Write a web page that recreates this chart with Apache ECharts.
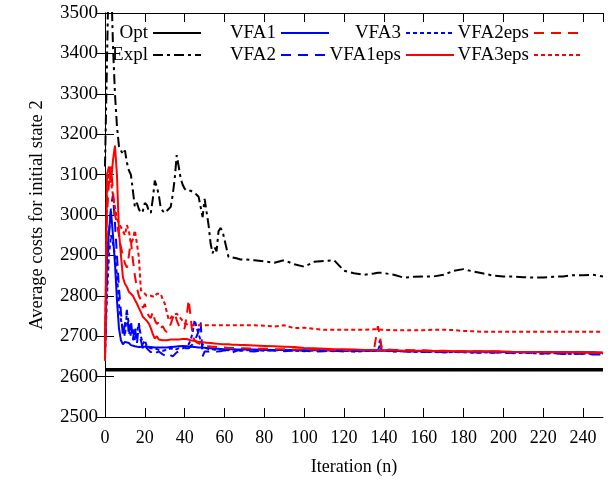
<!DOCTYPE html>
<html>
<head>
<meta charset="utf-8">
<script src="https://cdn.jsdelivr.net/npm/echarts@6/dist/echarts.min.js"></script>
<style>
  html, body { margin: 0; padding: 0; background: #fff; }
  #costChart { width: 612px; height: 482px; }
</style>
</head>
<body>
<div id="costChart"></div>
<script>
  // iteration grid (dense at the start where the curves are noisy)
  var iters = [0, 1, 2, 3, 4, 5, 6, 7, 8, 9, 10, 11, 12, 13, 14, 15, 16, 17, 18, 19,
    20, 21, 22, 23, 24, 25, 26, 27, 28, 29, 30, 31, 32, 33, 34, 35, 36, 37, 38, 39,
    40, 41, 42, 43, 44, 45, 46, 47, 48, 49, 50, 51, 52, 53, 54, 55, 56, 57, 58, 59, 60,
    62, 64, 66, 68,
    70, 75, 80, 85, 90, 95, 100, 105, 110, 115, 120, 125, 130, 135,
    136, 137, 138, 139,
    140, 145, 150, 155, 160, 165, 170, 175, 180, 185, 190, 195, 200, 205, 210, 215, 220, 225, 230, 235, 240, 245, 250]

  var optValue = 2617

  var explCost = [3120, 3380, 3650, 3600, 3420, 3300, 3220, 3170, 3160, 3150,
    3160, 3130, 3110, 3100, 3060, 3020, 3030, 3015, 3005, 3010,
    3030, 3025, 3010, 3005, 3040, 3085, 3070, 3050, 3016, 3010,
    3005, 3008, 3015, 3020, 3050, 3090, 3148, 3120, 3090, 3075,
    3065, 3060, 3058, 3060, 3056, 3055, 3050, 3045, 3044, 2995,
    3040, 3044, 2975, 2930, 2905, 2920, 2910, 2960, 2968, 2960, 2962,
    2896, 2895, 2893, 2890,
    2890, 2888, 2885, 2882, 2888, 2878, 2872, 2884, 2886, 2888, 2862, 2856, 2852, 2855,
    2856, 2857, 2857, 2857,
    2856, 2852, 2845, 2847, 2848, 2848, 2852, 2862, 2866, 2860, 2855, 2850, 2848, 2848, 2846, 2845, 2845, 2847, 2848, 2851, 2851, 2852, 2848]

  var vfa1Cost = [2660, 2900, 2960, 3010, 2950, 2880, 2790, 2720, 2690, 2680,
    2686, 2690, 2683, 2678, 2676, 2675, 2674, 2673, 2675, 2674,
    2673, 2674, 2672, 2673, 2674, 2672, 2671, 2672, 2673, 2672,
    2671, 2672, 2672, 2673, 2674, 2674, 2675, 2675, 2676, 2676,
    2676, 2675, 2675, 2674, 2674, 2673, 2673, 2672, 2672, 2672,
    2671, 2671, 2670, 2670, 2670, 2669, 2669, 2669, 2669, 2668, 2668,
    2668, 2668, 2667, 2667,
    2667, 2667, 2666, 2666, 2666, 2665, 2665, 2665, 2665, 2664, 2664, 2664, 2664, 2664,
    2664, 2664, 2664, 2664,
    2664, 2664, 2663, 2663, 2663, 2663, 2663, 2662, 2662, 2662, 2662, 2662, 2661, 2661, 2661, 2661, 2661, 2660, 2660, 2660, 2660, 2660, 2659]

  var vfa2Cost = [2655, 2850, 2950, 3020, 3050, 2980, 2900, 2820, 2760, 2700,
    2730, 2765, 2700, 2740, 2690, 2725, 2680, 2730, 2690, 2670,
    2682, 2670, 2665, 2660, 2666, 2658, 2660, 2662, 2660, 2655,
    2652, 2650, 2655, 2652, 2650, 2655, 2660, 2662, 2665, 2668,
    2670, 2672, 2670, 2675, 2680, 2690, 2700, 2712, 2735, 2650,
    2662, 2665, 2662, 2660, 2664, 2666, 2662, 2660, 2663, 2666, 2665,
    2662, 2660, 2664, 2666,
    2664, 2662, 2666, 2664, 2663, 2665, 2664, 2662, 2663, 2664, 2662, 2663, 2664, 2665,
    2665, 2666, 2690, 2668,
    2664, 2663, 2662, 2663, 2661, 2662, 2660, 2661, 2662, 2660, 2659, 2660, 2658, 2659, 2660, 2658, 2657, 2658, 2656, 2657, 2656, 2655, 2655]

  var vfa3Cost = [2655, 2800, 2900, 2950, 2930, 2900, 2850, 2780, 2740, 2720,
    2700, 2760, 2730, 2700, 2720, 2690, 2710, 2732, 2700, 2680,
    2690, 2675, 2672, 2670, 2668, 2670, 2668, 2666, 2665, 2664,
    2665, 2666, 2668, 2670, 2668, 2666, 2668, 2670, 2672, 2670,
    2672, 2675, 2680, 2690, 2710, 2740, 2722, 2705, 2690, 2680,
    2672, 2670, 2668, 2666, 2668, 2667, 2665, 2666, 2668, 2667, 2666,
    2665, 2667, 2666, 2664,
    2665, 2666, 2664, 2665, 2666, 2664, 2663, 2665, 2664, 2663, 2664, 2662, 2663, 2664,
    2664, 2665, 2678, 2665,
    2663, 2662, 2663, 2661, 2662, 2661, 2660, 2661, 2660, 2659, 2660, 2659, 2660, 2658, 2659, 2658, 2657, 2658, 2657, 2656, 2657, 2656, 2656]

  var vfa1epsCost = [2640, 3100, 3120, 3080, 3135, 3172, 3100, 2960, 2900, 2846,
    2830, 2822, 2810, 2805, 2800, 2790, 2781, 2770, 2760, 2748,
    2752, 2738, 2731, 2720, 2705, 2694, 2700, 2692, 2691, 2690,
    2690, 2690, 2691, 2692, 2692, 2692, 2691, 2692, 2693, 2693,
    2694, 2693, 2692, 2690, 2689, 2688, 2687, 2686, 2686, 2685,
    2685, 2684, 2684, 2683, 2683, 2682, 2682, 2681, 2681, 2680, 2680,
    2680, 2679, 2679, 2678,
    2678, 2677, 2676, 2675, 2674, 2673, 2671, 2670, 2669, 2668, 2668, 2667, 2666, 2666,
    2666, 2665, 2665, 2665,
    2665, 2665, 2664, 2664, 2664, 2663, 2663, 2663, 2662, 2662, 2662, 2662, 2662, 2661, 2661, 2661, 2660, 2660, 2660, 2660, 2659, 2659, 2659]

  var vfa2epsCost = [2640, 3000, 3080, 3120, 3060, 3000, 2980, 2950, 2920, 2900,
    2880, 2870, 2900, 2937, 2888, 2850, 2820, 2800, 2790, 2770,
    2780, 2760, 2750, 2745, 2760, 2740, 2730, 2735, 2720, 2725,
    2715, 2710, 2720, 2730, 2745, 2757, 2740, 2727, 2720, 2715,
    2720, 2750, 2790, 2748, 2700, 2690, 2685, 2682, 2680, 2678,
    2676, 2676, 2675, 2675, 2674, 2674, 2673, 2673, 2672, 2672, 2672,
    2671, 2671, 2670, 2670,
    2670, 2669, 2669, 2668, 2668, 2667, 2667, 2667, 2666, 2666, 2666, 2666, 2666, 2666,
    2666, 2725, 2700, 2668,
    2667, 2666, 2666, 2665, 2665, 2664, 2664, 2663, 2663, 2663, 2662, 2662, 2662, 2661, 2661, 2661, 2661, 2660, 2660, 2660, 2660, 2659, 2659]

  var vfa3epsCost = [2640, 3050, 3100, 3080, 3050, 3020, 2990, 2980, 2970, 2960,
    2950, 2975, 2960, 2929, 2940, 2962, 2930, 2896, 2814, 2810,
    2805, 2800, 2798, 2800, 2797, 2797, 2805, 2806, 2805, 2790,
    2781, 2760, 2740, 2745, 2752, 2755, 2756, 2750, 2744, 2738,
    2732, 2730, 2728, 2727, 2727, 2727, 2727, 2727, 2727, 2727,
    2727, 2727, 2727, 2727, 2727, 2727, 2727, 2727, 2727, 2727, 2727,
    2727, 2727, 2727, 2727,
    2727, 2727, 2726, 2724, 2727, 2720, 2721, 2718, 2716, 2716, 2716, 2716, 2716, 2717,
    2717, 2717, 2717, 2716,
    2716, 2715, 2715, 2715, 2715, 2716, 2716, 2715, 2713, 2712, 2711, 2711, 2711, 2711, 2711, 2711, 2711, 2711, 2711, 2711, 2711, 2711, 2711]

  var FONT = 'Liberation Serif'
  var BLUE = '#0000ff'
  var RED = '#ff0000'

  function pairs(values) {
    return iters.map(function (n, i) { return [n, values[i]] })
  }

  function lineSeries(name, values, color, width, dash) {
    return {
      name: name,
      type: 'line',
      data: pairs(values),
      symbol: 'none',
      animation: false,
      lineStyle: { color: color, width: width, type: dash },
      itemStyle: { color: color }
    }
  }

  // one legend box per entry so the text is right-aligned before the sample line
  function legendAt(name, right, top) {
    return {
      data: [name],
      right: right,
      top: top,
      padding: 0,
      align: 'right',
      itemWidth: 48,
      itemHeight: 10,
      itemStyle: { opacity: 0 },
      textStyle: { fontFamily: FONT, fontSize: 19, color: '#000', lineHeight: 20 }
    }
  }

  var tickInside = { show: true, inside: true, length: 9, lineStyle: { color: '#000' } }
  var axisLineBlack = { show: true, lineStyle: { color: '#000', width: 1 } }

  var chartDom = document.getElementById('costChart')
  var myChart = echarts.init(chartDom, null, { renderer: 'canvas' })
  myChart.setOption({
    animation: false,
    backgroundColor: '#fff',
    grid: { left: 105, right: 9, top: 13, bottom: 65 },
    legend: [
      legendAt('Opt', 410, 23),
      legendAt('Expl', 410, 45),
      legendAt('VFA1', 282, 23),
      legendAt('VFA2', 282, 45),
      legendAt('VFA3', 157, 23),
      legendAt('VFA1eps', 157, 45),
      legendAt('VFA2eps', 29, 23),
      legendAt('VFA3eps', 29, 45)
    ],
    xAxis: [{
      type: 'value',
      position: 'bottom',
      min: 0,
      max: 250,
      interval: 20,
      axisLine: axisLineBlack,
      axisTick: tickInside,
      splitLine: { show: false },
      axisLabel: {
        fontFamily: FONT, fontSize: 18, color: '#000', margin: 12, showMaxLabel: false,
        formatter: function (v) { return String(v) }
      },
      name: 'Iteration (n)',
      nameLocation: 'middle',
      nameGap: 41,
      nameTextStyle: { fontFamily: FONT, fontSize: 18, color: '#000' }
    }, {
      type: 'value',
      position: 'top',
      min: 0,
      max: 250,
      interval: 20,
      axisLine: axisLineBlack,
      axisTick: tickInside,
      splitLine: { show: false },
      axisLabel: { show: false }
    }],
    yAxis: [{
      type: 'value',
      position: 'left',
      min: 2500,
      max: 3500,
      interval: 100,
      axisLine: axisLineBlack,
      axisTick: tickInside,
      splitLine: { show: false },
      axisLabel: {
        fontFamily: FONT, fontSize: 19, color: '#000', margin: 7,
        formatter: function (v) { return String(v) }
      },
      name: 'Average costs for initial state 2',
      nameLocation: 'middle',
      nameGap: 58,
      nameTextStyle: { fontFamily: FONT, fontSize: 18.5, color: '#000' }
    }, {
      type: 'value',
      position: 'right',
      min: 2500,
      max: 3500,
      interval: 100,
      axisLine: axisLineBlack,
      axisTick: tickInside,
      splitLine: { show: false },
      axisLabel: { show: false }
    }],
    series: [
      {
        name: 'Opt',
        type: 'line',
        data: [[iters[0], optValue], [iters[iters.length - 1], optValue]],
        symbol: 'none',
        lineStyle: { color: '#000', width: 3.5, type: 'solid' },
        itemStyle: { color: '#000' }
      },
      lineSeries('Expl', explCost, '#000', 2, [10, 4, 3, 4]),
      lineSeries('VFA1', vfa1Cost, BLUE, 2, 'solid'),
      lineSeries('VFA2', vfa2Cost, BLUE, 2, [10, 7]),
      lineSeries('VFA3', vfa3Cost, BLUE, 2, [4, 3]),
      lineSeries('VFA1eps', vfa1epsCost, RED, 2, 'solid'),
      lineSeries('VFA2eps', vfa2epsCost, RED, 2, [10, 7]),
      lineSeries('VFA3eps', vfa3epsCost, RED, 2, [4, 3])
    ]
  })
</script>
</body>
</html>
